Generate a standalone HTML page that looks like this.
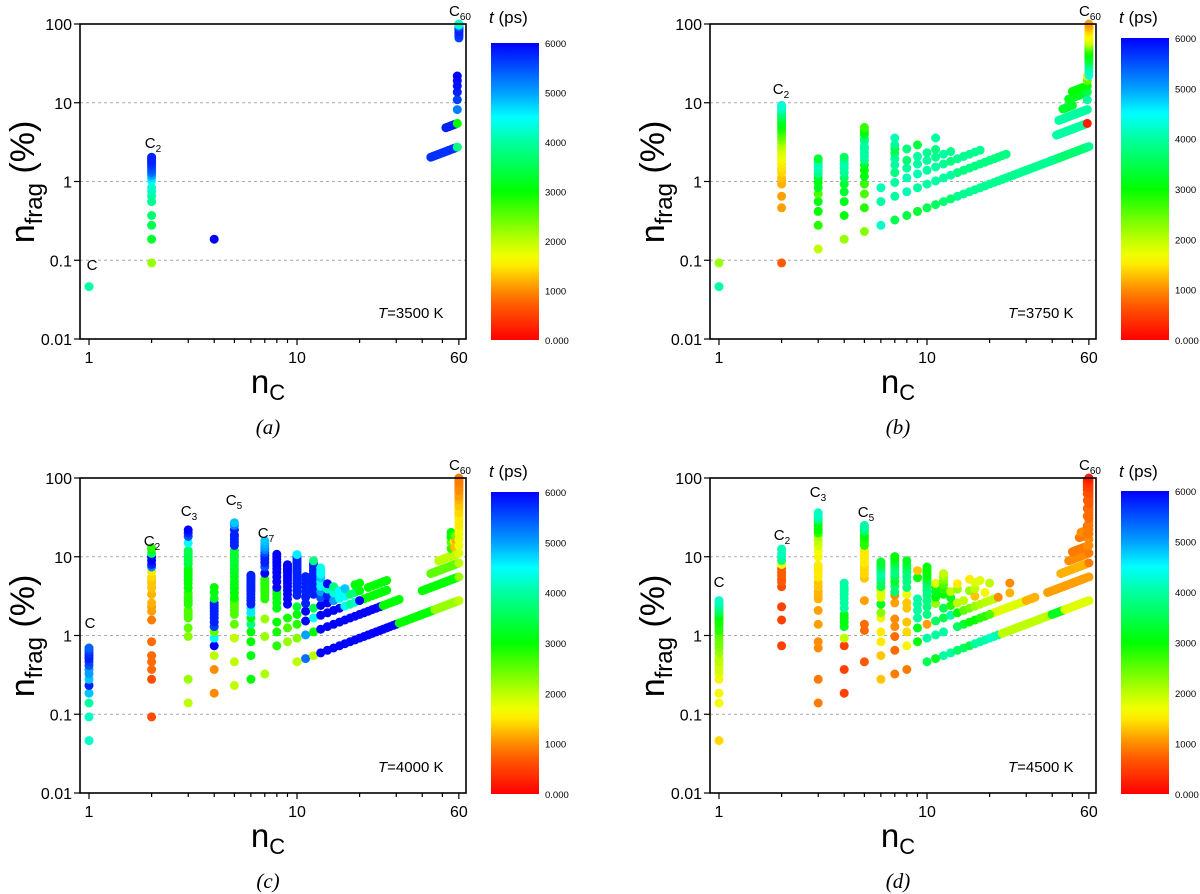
<!DOCTYPE html>
<html><head><meta charset="utf-8"><title>C60 fragmentation</title>
<style>
html,body{margin:0;padding:0;background:#fff;}
svg{display:block;font-family:"Liberation Sans",sans-serif;}
</style></head>
<body>
<svg id="fig" width="1200" height="894" viewBox="0 0 1200 894" xmlns="http://www.w3.org/2000/svg">
<defs>
<linearGradient id="cbgrad" x1="0" y1="1" x2="0" y2="0">
<stop offset="0" stop-color="rgb(255,0,0)"/>
<stop offset="0.117" stop-color="rgb(255,90,0)"/>
<stop offset="0.167" stop-color="rgb(255,140,0)"/>
<stop offset="0.25" stop-color="rgb(255,235,0)"/>
<stop offset="0.283" stop-color="rgb(240,255,0)"/>
<stop offset="0.333" stop-color="rgb(190,255,0)"/>
<stop offset="0.5" stop-color="rgb(0,255,0)"/>
<stop offset="0.667" stop-color="rgb(0,255,160)"/>
<stop offset="0.75" stop-color="rgb(0,255,255)"/>
<stop offset="0.833" stop-color="rgb(0,160,255)"/>
<stop offset="0.917" stop-color="rgb(0,80,255)"/>
<stop offset="1" stop-color="rgb(0,0,255)"/>
</linearGradient>
</defs>
</svg>
<script>
// ---------- data: total atoms = 36 x C60 = 2160; n_frag(%) = count * nC / 2160 * 100 ----------
// Panel (a) T=3500 K
const A_colN = [1,2,4,59,60];
const A_colCounts = [[1],[1,2,3,4,6,7,8,9,11,12,13,14,15,16,17,18,19,20,21,22],[1],[1,2,3,4,5,6,7,8],[24,25,26,27,28,29,30,31,32,33,34,35,36]];
const A_colTimes = [[4000],[2200,3300,3500,3700,3900,4000,4100,4200,4500,4700,5000,5300,5400,5500,5600,5700,5700,5800,5800,5800],[6000],[3800,3000,5200,5600,5800,5900,5900,6000],[5600,5600,5700,5700,5700,5800,5800,5800,5700,5600,5200,4600,4200]];
const A_runCount = [1,2];
const A_runFrom = [44,52];
const A_runTo = [58,58];
const A_runTime = [5700,5800];

// Panel (b) T=3750 K
const B_colN = [1,2,3,4,5,6,7,8,9,10,11,12,13,59,60];
const B_colCounts = [[1,2],
 [1,5,7,10,11,12,14,15,16,18,20,22,24,26,28,30,33,36,40,44,48,52,57,62,67,72,78,84,90,96,100],
 [1,2,3,4,5,6,7,8,9,10,11,12,13,14],
 [1,2,3,4,5,6,7,8,9,10,11],
 [1,2,3,4,5,6,7,8,9,10,11,12,14,15,17,19,21],
 [1,2,3],
 [1,2,3,4,5,6,7,8,9,11],
 [1,2,3,4,5,7],
 [1,2,3,4,5,7],
 [1,2,3,4,5],
 [1,2,3,4,5,7],
 [1,2,3,4],
 [1,2,3,4],
 [1,2,3,4,5,6,7,8],
 [1,8,9,10,11,12,13,14,15,16,17,18,19,20,21,22,23,24,25,26,27,28,29,30,31,32,33,34,35,36]];
const B_colTimes = [[4000,2200],
 [700,1100,1100,1200,1200,1300,1400,1400,1450,1500,1600,1700,1750,1800,1900,2000,2100,2300,2500,2600,2800,2900,3100,3200,3300,3500,3700,3900,4100,4200,4300],
 [2000,2800,3000,3100,2600,3200,3100,3200,3800,4000,4100,4100,4000,3300],
 [2200,3100,3200,3300,3300,3600,3900,4000,4100,4000,3600],
 [2300,2800,2600,2700,3100,3000,3200,3800,4000,4000,4000,4000,4000,3800,3200,3000,2700],
 [4200,4000,4100],
 [3500,4000,4000,3800,4000,4000,3700,3400,3900,4100],
 [3400,4100,4100,4000,3700,3800],
 [3300,4000,4100,4000,4000,3400],
 [3500,4000,4000,4000,3900],
 [3600,4000,4000,3900,3800,4000],
 [3700,4000,3900,4000],
 [3700,4000,3800,3900],
 [3800,200,4000,4000,3500,3000,2500,1600],
 [3900,4300,4200,4000,3800,3500,3300,3100,3000,2900,2800,2600,2400,2200,2000,1900,1800,1800,1700,1700,1600,1500,1500,1400,1400,1300,1300,1200,1200,1100]];
const B_runCount = [1,1,2,3,2,3,4,5,6];
const B_runFrom = [14,43,14,14,42,43,45,48,50];
const B_runTo = [42,58,24,18,58,58,50,56,56];
const B_runTime = [3900,3700,3800,3900,4000,4000,3300,3200,3000];

// Panel (c) T=4000 K
const C_colN = [1,2,3,4,5,6,7,8,9,10,11,12,13,14,15,16,17,18,19,20,55,57,58,60];
const C_colCounts = [
 [1,2,3,4,5,6,7,8,9,10,11,12,13,14,15],
 [1,3,4,5,6,9,17,22,25,28,36,43,49,54,60,70,80,86,97,108,119,135,140],
 [1,2,7,9,12,13,14,15,18,20,22,25,29,33,37,41,45,50,58,65,72,79,86,108,130,144,158],
 [1,2,3,4,5,6,7,8,9,10,11,12,13,14,16,19,22],
 [1,2,4,6,8,9,10,11,12,13,15,17,19,21,24,27,30,34,38,42,46,52,60,66,72,78,82,95,108,117],
 [1,2,3,4,5,6,7,8,9,10,11,12,13,14,15,16,17,18,19,20,21],
 [1,3,5,9,10,11,12,13,14,15,16,19,23,26,29,32,35,38,41,45,49],
 [2,3,4,6,7,8,9,10,11,13,15,17,19,21,23,25,27,29],
 [2,3,4,6,7,8,9,10,11,12,13,14,15,16,17,18,19],
 [1,2,3,4,5,7,8,9,10,11,12,13,14,15,16,17,18,19,20,21,22,23],
 [1,2,3,4,5,6,7,8,9,10,11],
 [1,2,3,4,6,7,8,9,10,11,12,13,14,15,16],
 [1,2,3,4,5,6,7,8,9,10,11,12],
 [1,2,3,4,5,6,7],
 [1,2,3,4,5,6],
 [1,2,3,4,5],
 [1,2,3,4,5],
 [1,2,3,4],
 [1,2,3,4,5],
 [1,2,3,4,5],
 [5,6,7,8],
 [5,6,7],
 [4,5,6,7],
 [1,2,3,4,5,6,7,8,9,10,11,12,13,14,15,16,17,18,19,20,21,22,23,24,25,26,27,28,29,30,31,32,33,34,35,36]];
const C_colTimes = [
 [4200,4200,4000,4800,5800,4800,5000,5000,5500,5600,5800,5800,5700,5600,5400],
 [600,600,800,800,800,800,900,1100,1100,1200,1200,1300,1300,1300,1400,1500,5200,5800,6000,6000,3500,3000,2800],
 [2000,2200,2300,2500,2600,2600,2600,2600,2800,2800,2800,2800,3000,3000,3000,3000,3000,3000,3300,3400,3400,3400,3500,4500,5500,5800,6000],
 [1000,1000,2000,6000,4500,2500,5600,5800,5800,5800,5800,5800,5800,5800,3200,3100,3000],
 [2000,2000,2000,2500,2600,2600,2600,2600,2600,3000,3000,3000,3100,3100,3100,3200,3200,3200,3300,3300,3300,3300,5800,5800,5800,5800,5800,5800,5200,4800],
 [3000,3100,3000,3000,3800,3000,4600,4600,5800,5800,5800,5800,5800,5800,5800,5800,5800,5800,5800,5800,5800],
 [2100,2200,2200,2800,2800,2800,2800,2800,2800,2800,2800,6000,5500,5800,5800,5800,5500,5200,5000,4900,4800],
 [2800,2900,3000,3100,3100,3100,3100,3100,6000,6000,6000,6000,6000,6000,6000,6000,6000,6000],
 [2200,2600,2900,6000,6000,6000,6000,6000,6000,6000,6000,6000,6000,6000,6000,6000,6000],
 [2000,2300,2800,3000,3300,5800,5800,5800,5800,5800,5800,5800,5800,5800,5800,5800,5800,5800,5800,5800,5800,4600],
 [5300,5000,6000,6000,5800,5800,5800,5800,5800,5800,5800],
 [2000,3000,4500,3500,5800,5800,5800,5800,5800,5800,5800,5800,5800,5800,3800],
 [6000,6000,6000,6000,5500,5000,4500,4500,4800,4500,4500,4400],
 [6000,6000,6000,6000,5800,4200,6000],
 [6000,6000,6000,5000,4300,3800],
 [6000,6000,6000,4500,4500],
 [6000,6000,4500,4500,4800],
 [6000,6000,4000,3700],
 [6000,6000,4200,3800,3000],
 [6000,6000,6000,3000,3000],
 [2800,2500,3000,3000],
 [1200,1500,2800],
 [2000,1300,1200,2500],
 [2000,2200,2000,1800,1700,1700,1700,1700,1500,1500,1500,1500,1400,1400,1400,1300,1300,1300,1200,1200,1100,1100,1100,1100,1000,1000,1000,1000,1000,950,950,950,900,900,900,900]];
const C_runCount = [1,1,1,2,2,3,4,2,3,4];
const C_runFrom = [21,31,46,21,26,21,22,40,44,48];
const C_runTo = [30,45,59,25,31,27,27,59,59,59];
const C_runTime = [6000,3000,2200,6000,3000,3000,3000,3000,2500,2000];

// Panel (d) T=4500 K
const D_colN = [1,2,3,4,5,6,7,8,9,10,11,12,13,14,15,16,17,18,19,20,22,25,59,60];
const D_colCounts = [
 [1,3,4,6,7,8,9,10,11,13,15,17,19,21,23,25,28,31,34,37,40,42,45,48,51,54,57,60],
 [8,17,25,45,52,56,62,68,76,86,97,108,119,135],
 [1,2,5,6,10,15,21,23,26,30,34,40,45,50,56,72,86,100,115,130,144,160,180,200,216,235,260],
 [1,2,4,5,7,8,9,10,12,14,16,18,20,22,25],
 [2,5,6,12,23,26,29,32,36,40,44,48,52,60,65,70,75,80,90,95,100,108],
 [1,2,3,4,6,7,9,11,12,13,14,15,17,19,21,23,25,27,29,31],
 [1,2,3,4,5,8,10,11,13,15,17,19,21,23,25,27,29,31],
 [1,2,3,4,6,7,9,11,13,15,17,19,21,24],
 [2,3,4,5,6,7,13,16],
 [1,2,3,4,5,6,7,8,9,10,11,12,13,14,15,16],
 [1,2,3,5,6,7,8,9],
 [1,2,3,4,6,7,8,9,10,11],
 [1,3,4,5,6],
 [1,2,3,4,6,7],
 [1,2,3,4],
 [1,2,3,5,7],
 [1,2,3,4,5,6],
 [1,2,3,6],
 [1,2,3,4],
 [1,2,3,5],
 [3],
 [3,4],
 [5,7,9,12,15,19,23,26,28,30,32,34],
 [1,2,3,4,5,6,7,8,9,10,11,12,13,14,15,16,17,18,19,20,21,22,23,24,25,26,27,28,29,30,31,32,33,34,35,36]];
const D_colTimes = [
 [1400,1700,1600,1600,1800,1900,1900,2000,2000,2200,2300,2400,2400,2500,2500,2800,2800,2900,2900,3000,3000,3500,3600,3700,3800,4000,4100,4200],
 [500,500,500,600,700,700,700,700,700,1700,3800,4000,4200,4100],
 [900,900,1000,1000,1100,1100,1200,1200,1200,1300,1300,1500,1500,1500,1500,1600,1700,1900,2000,2100,2800,3000,3000,3200,3900,4100,4200],
 [500,500,500,2000,3200,3100,3100,3100,4000,4000,4000,4000,4000,4000,4000],
 [700,800,800,1100,1300,1400,1400,1400,1500,1500,1500,1500,1500,2800,2800,2800,2900,3000,3500,3700,3900,4000],
 [1300,1300,1500,1500,1600,2300,3200,1800,1800,1800,1800,3500,3600,3800,4000,4000,3800,3600,3400,3300],
 [900,800,800,1000,1000,1100,1000,3700,3700,3200,3500,3800,3800,3700,3500,3300,3100,3000],
 [900,1600,1400,1300,1300,1300,1700,3800,3800,3800,3800,3600,3400,3200],
 [3000,3200,4000,4000,4000,4000,3000,1300],
 [3500,4000,1100,3800,3800,3800,3800,3800,3800,3600,3400,3200,3000,3000,3000,3000],
 [3200,4000,3600,2200,3000,3200,3200,1800],
 [4000,4000,3500,3500,3000,2800,2600,2400,2200,2000],
 [4000,4000,2800,3200,2000],
 [3600,3600,3000,2000,2200,1500],
 [3600,3300,2500,2000],
 [3400,3000,2400,2200,1500],
 [4000,3000,2200,1300,2000,1800],
 [4000,2800,2100,1800],
 [4000,2800,2000,1600],
 [4200,2600,2000,2000],
 [1000],
 [1200,1000],
 [1000,900,800,800,700,700,600,500,500,400,400,300],
 [1800,1100,900,900,1000,1000,900,900,900,900,800,800,800,800,800,800,700,700,700,700,700,700,600,600,600,600,500,500,500,500,400,400,400,300,300,200]];
const D_runCount = [1,1,1,1,2,2,2,3,3,4,5,7,8];
const D_runFrom = [21,23,40,46,21,30,38,21,44,48,50,54,55];
const D_runTo = [22,39,45,58,29,33,58,21,58,58,58,57,57];
const D_runTime = [4000,2000,3200,1800,1800,1200,1100,2000,1200,1000,900,900,1000];

const TOTAL_ATOMS = 2160;

// ---------- drawing ----------
const NS = "http://www.w3.org/2000/svg";
const svg = document.getElementById('fig');
const L = 80, R = 466, TOP = 24, BOT = 339;
function xS(n){ return 89 + 208*Math.log10(n); }
function yS(v){ return 24 + 78.75*(2 - Math.log10(v)); }
const stops = [[0,255,0,0],[700,255,90,0],[1000,255,140,0],[1500,255,235,0],[1700,240,255,0],[2000,190,255,0],[3000,0,255,0],[4000,0,255,160],[4500,0,255,255],[5000,0,160,255],[5500,0,80,255],[6000,0,0,255]];
function cmap(t){
  t = Math.max(0, Math.min(6000, t));
  for (let i=0;i<stops.length-1;i++){
    const a=stops[i], b=stops[i+1];
    if (t>=a[0] && t<=b[0]){
      const f=(t-a[0])/(b[0]-a[0]);
      return 'rgb('+Math.round(a[1]+(b[1]-a[1])*f)+','+Math.round(a[2]+(b[2]-a[2])*f)+','+Math.round(a[3]+(b[3]-a[3])*f)+')';
    }
  }
  return 'rgb(0,0,255)';
}
function mk(tag, attrs, parent){
  const e = document.createElementNS(NS, tag);
  for (const k in attrs) e.setAttribute(k, attrs[k]);
  parent.appendChild(e);
  return e;
}
function txt(parent, x, y, s, size, anchor, extra){
  const e = mk('text', {x:x, y:y, 'font-size':size, 'text-anchor':anchor||'start', fill:'#000'}, parent);
  if (extra) for (const k in extra) e.setAttribute(k, extra[k]);
  e.textContent = s;
  return e;
}
function clusterLabel(g, x, y, sub){
  const e = mk('text', {x:x, y:y, 'font-size':15, 'text-anchor':'middle', fill:'#000'}, g);
  
  
  e.appendChild(document.createTextNode('C'));
  if (sub){
    const ts = document.createElementNS(NS,'tspan');
    ts.setAttribute('font-size', 10);
    ts.setAttribute('dy', 4);
    ts.textContent = sub;
    e.appendChild(ts);
  }
}
function panel(ox, oy, cbTop, letter, temp, colN, colCounts, colTimes, runCount, runFrom, runTo, runTime, labels){
  const g = mk('g', {transform:'translate('+ox+','+oy+')'}, svg);
  
  
  [10,1,0.1].forEach(v=>{
    const ln = mk('line', {x1:L, x2:R, y1:yS(v), y2:yS(v), stroke:'#aaa', 'stroke-width':1, 'stroke-dasharray':'3,3'}, g);
    
    
  });
  const pts = mk('g', {}, g);
  
  
  function dot(n, cnt, t){
    const v = cnt*n/TOTAL_ATOMS*100;
    const c = mk('circle', {cx:xS(n).toFixed(1), cy:yS(v).toFixed(1), r:4.5, fill:cmap(t)}, pts);
    
    
  }
  for (let r=0;r<runCount.length;r++){
    for (let n=runFrom[r]; n<=runTo[r]; n++) dot(n, runCount[r], runTime[r]);
  }
  for (let i=0;i<colN.length;i++){
    for (let j=0;j<colCounts[i].length;j++) dot(colN[i], colCounts[i][j], colTimes[i][j]);
  }
  const fr = mk('rect', {x:L, y:TOP, width:R-L, height:BOT-TOP, fill:'none', stroke:'#000', 'stroke-width':1.6}, g);
  
  
  const xt = [1,2,3,4,5,6,7,8,9,10,20,30,40,50,60];
  xt.forEach(n=>{
    const major = (n===1||n===10||n===60);
    const tk = mk('line', {x1:xS(n), x2:xS(n), y1:BOT, y2:BOT+(major?6:4), stroke:'#000', 'stroke-width':1.2}, g);
    
    
    if (major){
      const tl = txt(g, xS(n), BOT+24, String(n), 16, 'middle');
      
      
    }
  });
  const yt = [100,10,1,0.1,0.01];
  const ytl = ['100','10','1','0.1','0.01'];
  yt.forEach((v,i)=>{
    const tk = mk('line', {x1:L-6, x2:L, y1:yS(v), y2:yS(v), stroke:'#000', 'stroke-width':1.2}, g);
    
    
    const tl = txt(g, L-8, yS(v)+6, ytl[i], 16, 'end');
    
    
  });
  const xa = mk('text', {x:268, y:393, 'font-size':33, 'text-anchor':'middle', fill:'#000'}, g);
  
  
  xa.appendChild(document.createTextNode('n'));
  const xs = document.createElementNS(NS,'tspan'); xs.setAttribute('font-size',22); xs.setAttribute('dy',7); xs.textContent='C'; xa.appendChild(xs);
  const ya = mk('text', {x:0, y:0, 'font-size':34, 'text-anchor':'middle', fill:'#000', transform:'translate(34,182) rotate(-90)'}, g);
  
  
  ya.appendChild(document.createTextNode('n'));
  const ys = document.createElementNS(NS,'tspan'); ys.setAttribute('font-size',24); ys.setAttribute('dy',8); ys.textContent='frag'; ya.appendChild(ys);
  const yp = document.createElementNS(NS,'tspan'); yp.setAttribute('dy',-8); yp.textContent=' (%)'; ya.appendChild(yp);
  const te = mk('text', {x:378, y:318, 'font-size':15, fill:'#000'}, g);
  
  
  const ti = document.createElementNS(NS,'tspan'); ti.setAttribute('font-style','italic'); ti.textContent='T'; te.appendChild(ti);
  te.appendChild(document.createTextNode('=' + temp + ' K'));
  const pl = txt(g, 268, 434, '('+letter+')', 21, 'middle', {'font-family':'"Liberation Serif", serif', 'font-style':'italic'});
  
  
  labels.forEach(l=> clusterLabel(g, l[0], l[1], l[2]));
  const cb = mk('rect', {x:491, y:cbTop, width:48, height:340-cbTop, fill:'url(#cbgrad)'}, g);
  
  
  const cbt = [6000,5000,4000,3000,2000,1000,0];
  const cbl = ['6000','5000','4000','3000','2000','1000','0.000'];
  cbt.forEach((t,i)=>{
    const y = cbTop + (340-cbTop)*(1 - t/6000);
    const tl = txt(g, 545, y+4, cbl[i], 9.5, 'start');
    
    
  });
  const ct = mk('text', {x:489, y:23, 'font-size':17, fill:'#000'}, g);
  
  
  const cti = document.createElementNS(NS,'tspan'); cti.setAttribute('font-style','italic'); cti.textContent='t'; ct.appendChild(cti);
  ct.appendChild(document.createTextNode(' (ps)'));
}

panel(0, 0, 43, 'a', 3500, A_colN, A_colCounts, A_colTimes, A_runCount, A_runFrom, A_runTo, A_runTime,
  [[92,270,''],[153,148,'2'],[460,16,'60']]);
panel(630, 0, 38, 'b', 3750, B_colN, B_colCounts, B_colTimes, B_runCount, B_runFrom, B_runTo, B_runTime,
  [[151,94,'2'],[460,16,'60']]);
panel(0, 454, 38, 'c', 4000, C_colN, C_colCounts, C_colTimes, C_runCount, C_runFrom, C_runTo, C_runTime,
  [[90,174,''],[152,92,'2'],[189,62,'3'],[234,51,'5'],[266,84,'7'],[460,16,'60']]);
panel(630, 454, 37, 'd', 4500, D_colN, D_colCounts, D_colTimes, D_runCount, D_runFrom, D_runTo, D_runTime,
  [[89,133,''],[152,86,'2'],[188,43,'3'],[236,63,'5'],[460,16,'60']]);
</script>
</body></html>
